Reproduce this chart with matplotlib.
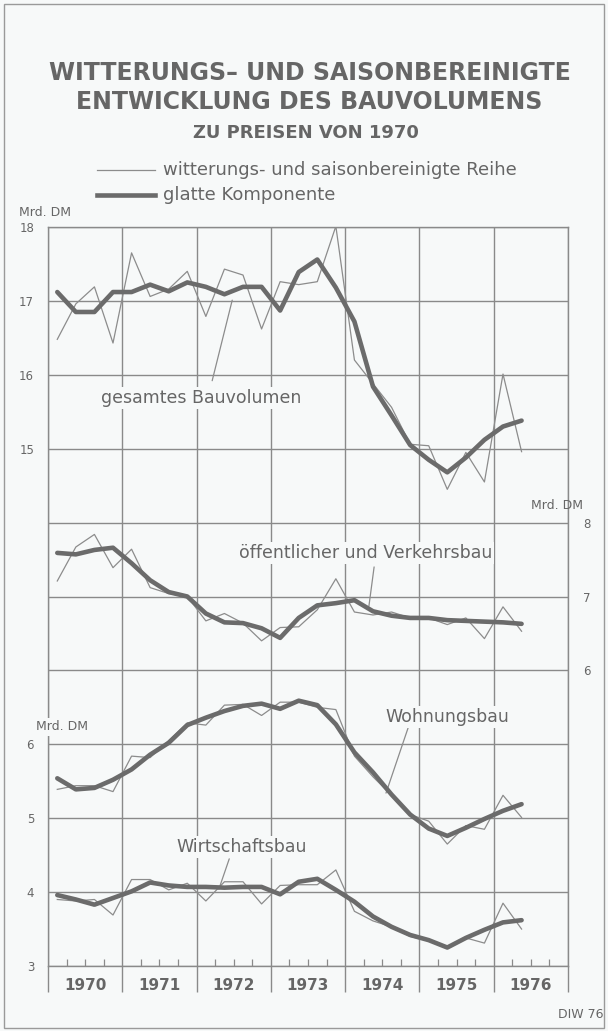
import matplotlib.pyplot as plt
from matplotlib.lines import Line2D
from matplotlib.patches import Rectangle
import numpy as np

# quarterly values, 1970 Q1 .. 1976 Q2 (Mrd. DM, Preise von 1970)
years = [1970, 1971, 1972, 1973, 1974, 1975, 1976]

gesamt_reihe = [16.48, 16.96, 17.19, 16.43, 17.65, 17.06, 17.16, 17.40, 16.79, 17.43, 17.35, 16.62, 17.26,
                17.22, 17.26, 18.01, 16.20, 15.88, 15.56, 15.06, 15.04, 14.45, 14.95, 14.55, 16.01, 14.96]
gesamt_glatt = [17.12, 16.85, 16.85, 17.12, 17.12, 17.22, 17.13, 17.25, 17.19, 17.09, 17.19, 17.19, 16.87,
                17.39, 17.56, 17.18, 16.72, 15.84, 15.45, 15.05, 14.85, 14.68, 14.88, 15.12, 15.30, 15.38]

oeff_reihe = [7.21, 7.67, 7.84, 7.39, 7.64, 7.12, 7.04, 7.00, 6.67, 6.77, 6.64, 6.40, 6.58,
              6.59, 6.82, 7.24, 6.79, 6.75, 6.79, 6.71, 6.71, 6.62, 6.71, 6.43, 6.86, 6.53]
oeff_glatt = [7.59, 7.57, 7.63, 7.66, 7.45, 7.22, 7.06, 7.00, 6.77, 6.65, 6.64, 6.57, 6.44,
              6.71, 6.88, 6.91, 6.95, 6.80, 6.74, 6.71, 6.71, 6.68, 6.67, 6.66, 6.65, 6.63]

wohn_reihe = [5.39, 5.44, 5.44, 5.36, 5.84, 5.82, 6.05, 6.29, 6.26, 6.53, 6.54, 6.39, 6.57,
              6.57, 6.50, 6.47, 5.84, 5.56, 5.31, 5.05, 4.96, 4.65, 4.90, 4.85, 5.31, 5.01]
wohn_glatt = [5.54, 5.39, 5.41, 5.52, 5.66, 5.86, 6.02, 6.26, 6.36, 6.45, 6.52, 6.55, 6.48,
              6.59, 6.53, 6.27, 5.89, 5.62, 5.32, 5.05, 4.86, 4.76, 4.87, 4.99, 5.10, 5.19]

wirt_reihe = [3.90, 3.88, 3.90, 3.69, 4.17, 4.17, 4.03, 4.12, 3.88, 4.14, 4.14, 3.84, 4.09,
              4.10, 4.10, 4.30, 3.74, 3.61, 3.53, 3.40, 3.34, 3.24, 3.38, 3.31, 3.85, 3.50]
wirt_glatt = [3.96, 3.90, 3.83, 3.92, 4.01, 4.13, 4.09, 4.07, 4.07, 4.06, 4.07, 4.07, 3.97,
              4.14, 4.18, 4.03, 3.87, 3.67, 3.53, 3.42, 3.35, 3.25, 3.38, 3.49, 3.59, 3.62]

# quarter midpoints
x = years[0] + (np.arange(len(gesamt_reihe)) + 0.5) / 4

bg = '#f7f9f9'
ink = '#666666'
grid_c = '#8a8a8a'
thin_c = '#8c8c8c'
thick_c = '#6b6b6b'

W, H = 608, 1031
fig = plt.figure(figsize=(W / 100, H / 100), dpi=100, facecolor=bg)


def fx(px):
    return px / W


def fy(py):
    return 1 - py / H


rect = [fx(48), fy(966), fx(568) - fx(48), fy(227) - fy(966)]
ax = fig.add_axes(rect)                    # Wohnungsbau / Wirtschaftsbau, scale 3..13
ax_mid = fig.add_axes(rect, sharex=ax)     # oeffentlicher Bau, scale 2..12
ax_top = fig.add_axes(rect, sharex=ax)     # gesamt, scale 8..18

ax.set_facecolor(bg)
for a in (ax_mid, ax_top):
    a.patch.set_visible(False)
    for s in a.spines.values():
        s.set_visible(False)
    a.tick_params(axis='x', which='both', bottom=False, labelbottom=False)

for s in ax.spines.values():
    s.set_color(grid_c)
    s.set_linewidth(1.0)

ax.set_xlim(1970, 1977)
ax.set_xticks(years + [1977])
ax.set_xticks(np.arange(1970, 1977, 0.25), minor=True)
ax.set_xticklabels([])
ax.tick_params(axis='x', which='major', direction='out', length=19, width=1.0, color=grid_c)
ax.tick_params(axis='x', which='minor', direction='in', length=5, width=0.9, color=grid_c)
ax.grid(True, axis='x', which='major', color=grid_c, lw=1.0)

ax.set_ylim(3, 13)
ax.set_yticks(range(3, 14))
ax.set_yticklabels([str(v) if v <= 6 else '' for v in range(3, 14)])
ax.grid(True, axis='y', color=grid_c, lw=1.0)
ax.tick_params(axis='y', length=0, pad=10, labelsize=8.5, labelcolor=ink)

ax_mid.set_ylim(2, 12)
ax_mid.set_yticks([6, 7, 8])
ax_mid.yaxis.tick_right()
ax_mid.tick_params(axis='y', length=0, pad=11, labelsize=8.5, labelcolor=ink)

ax_top.set_ylim(8, 18)
ax_top.set_yticks([15, 16, 17, 18])
ax_top.tick_params(axis='y', length=0, pad=10, labelsize=8.5, labelcolor=ink)

for a, reihe, glatt in ((ax_top, gesamt_reihe, gesamt_glatt),
                        (ax_mid, oeff_reihe, oeff_glatt),
                        (ax, wohn_reihe, wohn_glatt),
                        (ax, wirt_reihe, wirt_glatt)):
    a.plot(x, reihe, color=thin_c, lw=0.9, zorder=4)
    a.plot(x, glatt, color=thick_c, lw=3.3, solid_joinstyle='round', solid_capstyle='round', zorder=5)

# year labels below the axis
for yr in years:
    ax.text(yr + 0.5, -0.026, str(yr), transform=ax.get_xaxis_transform(), ha='center', va='center',
            fontsize=11, fontweight='bold', color=ink, family=['Liberation Sans Narrow', 'DejaVu Sans'])

lab = dict(fontsize=12.5, color=ink, ha='center', va='center',
           bbox=dict(facecolor=bg, edgecolor='none', pad=1.5), zorder=6)
lead = dict(arrowstyle='-', color=thin_c, lw=0.9, shrinkA=0, shrinkB=0)

ax_top.text(1972.06, 15.69, 'gesamtes Bauvolumen', **lab)
ax_top.annotate('', xy=(1972.48, 17.01), xytext=(1972.21, 15.92), arrowprops=lead)

ax_mid.text(1974.27, 7.59, 'öffentlicher und Verkehrsbau', **lab)
ax_mid.annotate('', xy=(1974.32, 6.87), xytext=(1974.39, 7.40), arrowprops=lead)

ax.text(1975.37, 6.37, 'Wohnungsbau', **lab)
ax.annotate('', xy=(1974.55, 5.34), xytext=(1974.85, 6.23), arrowprops=lead)

ax.text(1972.61, 4.61, 'Wirtschaftsbau', **lab)
ax.annotate('', xy=(1972.30, 4.04), xytext=(1972.44, 4.45), arrowprops=lead)

# unit labels
fig.text(fx(45), fy(212), 'Mrd. DM', fontsize=9, color=ink, ha='center', va='center')
fig.text(fx(557), fy(505), 'Mrd. DM', fontsize=9, color=ink, ha='center', va='center')
fig.text(fx(62), fy(727), 'Mrd. DM', fontsize=9, color=ink, ha='center', va='center', zorder=10,
         bbox=dict(facecolor=bg, edgecolor='none', pad=1.5))

# title
fig.text(fx(310), fy(73), 'WITTERUNGS– UND SAISONBEREINIGTE', fontsize=17, fontweight='bold',
         color=ink, ha='center', va='center')
fig.text(fx(309), fy(102), 'ENTWICKLUNG DES BAUVOLUMENS', fontsize=17, fontweight='bold',
         color=ink, ha='center', va='center')
fig.text(fx(306), fy(133), 'ZU PREISEN VON 1970', fontsize=13, fontweight='bold',
         color=ink, ha='center', va='center')

# legend
fig.add_artist(Line2D([fx(97), fx(155)], [fy(170), fy(170)], color=thin_c, lw=0.9))
fig.add_artist(Line2D([fx(97), fx(155)], [fy(195), fy(195)], color=thick_c, lw=3.3))
fig.text(fx(163), fy(170), 'witterungs- und saisonbereinigte Reihe', fontsize=13, color=ink,
         ha='left', va='center')
fig.text(fx(163), fy(195), 'glatte Komponente', fontsize=13, color=ink, ha='left', va='center')

fig.text(fx(603), fy(1015), 'DIW 76', fontsize=9, color=ink, ha='right', va='center')

fig.add_artist(Rectangle((fx(4), fy(1028)), fx(604) - fx(4), fy(4) - fy(1028), fill=False,
                         edgecolor='#9a9a9a', lw=1.0))

fig.savefig('out.png', dpi=100, facecolor=bg)
